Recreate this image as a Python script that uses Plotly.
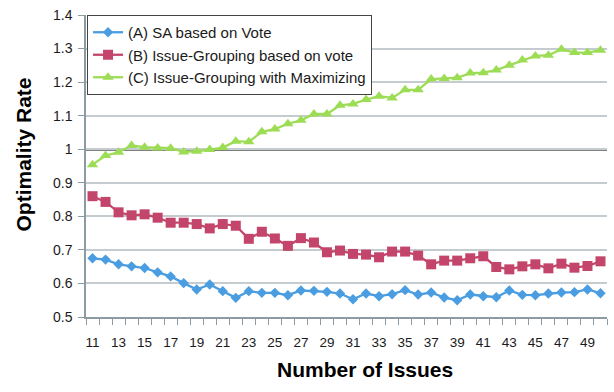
import plotly.graph_objects as go

issues = list(range(11, 51))

sa_vote = [0.675, 0.671, 0.657, 0.651, 0.646, 0.633, 0.621, 0.601, 0.582, 0.597,
           0.577, 0.557, 0.577, 0.572, 0.572, 0.565, 0.579, 0.578, 0.575, 0.570,
           0.553, 0.570, 0.562, 0.568, 0.580, 0.567, 0.573, 0.558, 0.550, 0.567,
           0.562, 0.559, 0.579, 0.566, 0.565, 0.570, 0.573, 0.574, 0.582, 0.571]

ig_vote = [0.860, 0.843, 0.812, 0.803, 0.806, 0.796, 0.781, 0.781, 0.777, 0.764,
           0.777, 0.772, 0.733, 0.754, 0.734, 0.712, 0.735, 0.722, 0.693, 0.698,
           0.688, 0.686, 0.678, 0.695, 0.695, 0.683, 0.657, 0.668, 0.668, 0.675,
           0.681, 0.649, 0.642, 0.651, 0.657, 0.645, 0.659, 0.647, 0.652, 0.666]

ig_max = [0.954, 0.981, 0.991, 1.011, 1.006, 1.004, 1.003, 0.992, 0.994, 0.999,
          1.005, 1.024, 1.022, 1.052, 1.060, 1.076, 1.086, 1.105, 1.105, 1.131,
          1.135, 1.148, 1.158, 1.153, 1.177, 1.177, 1.209, 1.211, 1.213, 1.227,
          1.228, 1.236, 1.250, 1.266, 1.278, 1.280, 1.298, 1.288, 1.288, 1.295]

names = ["(A) SA based on Vote", "(B) Issue-Grouping based on vote",
         "(C) Issue-Grouping with Maximizing"]
colors = ["#4a9de0", "#c4456b", "#9ddc55"]
symbols = ["diamond", "square", "triangle-up"]
sizes = [8, 10, 10]

x_tick_labels = [str(v) for v in range(11, 51, 2)]
y_ticks = [0.5, 0.6, 0.7, 0.8, 0.9, 1.0, 1.1, 1.2, 1.3, 1.4]
y_tick_labels = ["0.5", "0.6", "0.7", "0.8", "0.9", "1", "1.1", "1.2", "1.3", "1.4"]

x_title = "Number of Issues"
y_title = "Optimality Rate"

fig = go.Figure()
for ys, nm, c, s, sz in zip([sa_vote, ig_vote, ig_max], names, colors, symbols, sizes):
    fig.add_trace(go.Scatter(
        x=issues, y=ys, name=nm, mode="lines+markers",
        line=dict(color=c, width=2.3),
        marker=dict(symbol=s, size=sz, color=c),
    ))

fig.add_shape(type="line", xref="paper", yref="y", x0=0, x1=1, y0=1, y1=1,
              line=dict(color="black", width=2.5), layer="between")

axis_col = "#8c9aa3"
grid_col = "#c5ccd0"
font = "Liberation Sans, Arial, sans-serif"

fig.add_annotation(text="<b>" + x_title + "</b>", xref="paper", yref="paper",
                   x=0.536, y=-0.175, xanchor="center", yanchor="middle",
                   showarrow=False, font=dict(family=font, size=21, color="black"))
fig.add_annotation(text="<b>" + y_title + "</b>", xref="paper", yref="paper",
                   x=-0.119, y=0.538, xanchor="center", yanchor="middle",
                   textangle=-90, showarrow=False,
                   font=dict(family=font, size=21, color="black"))

fig.update_layout(
    width=614, height=392,
    margin=dict(l=86, r=7, t=12, b=75),
    paper_bgcolor="white", plot_bgcolor="white",
    font=dict(family=font, size=13, color="#1a1a1a"),
    showlegend=True,
    legend=dict(
        x=0.002, y=1, xanchor="left", yanchor="top",
        bgcolor="white", bordercolor="#444444", borderwidth=1,
        font=dict(family=font, size=15, color="#1a1a1a"),
        itemwidth=30, tracegroupgap=0,
    ),
    xaxis=dict(
        range=[10.5, 50.5],
        tickvals=list(range(11, 51, 2)), ticktext=x_tick_labels,
        ticks="", showgrid=False, zeroline=False,
        showline=True, linecolor=axis_col, linewidth=1.5,
        ticklabelstandoff=12,
        tickfont=dict(size=13.5),
        minor=dict(tickvals=[v + 0.5 for v in range(10, 51)], ticks="outside",
                   ticklen=6, tickcolor=axis_col, tickwidth=1, showgrid=False),
    ),
    yaxis=dict(
        range=[0.5, 1.4],
        tickvals=y_ticks, ticktext=y_tick_labels,
        ticks="outside", ticklen=6, tickcolor=axis_col,
        showgrid=True, gridcolor=grid_col, gridwidth=1.5,
        zeroline=False, showline=True, linecolor=axis_col, linewidth=1.5,
        ticklabelstandoff=3,
        tickfont=dict(size=14),
    ),
)

fig.write_html("out.html")
